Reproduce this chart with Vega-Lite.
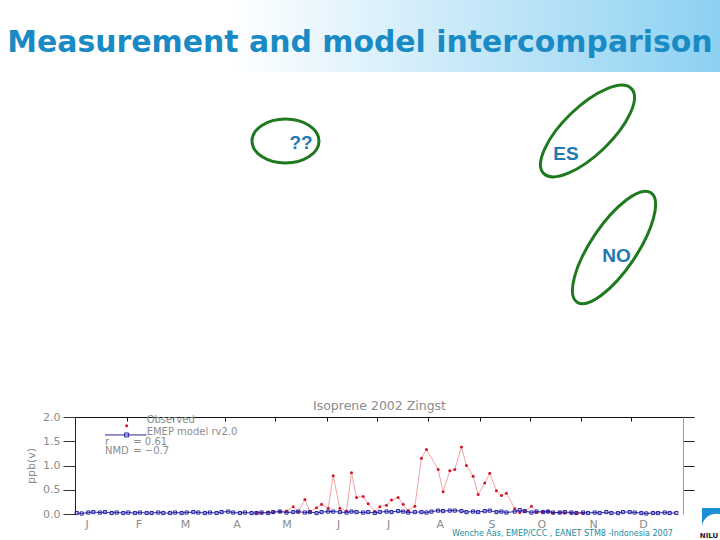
{
  "$schema": "https://vega.github.io/schema/vega-lite/v6.json",
  "width": 608,
  "height": 97,
  "autosize": {"type": "none"},
  "padding": {"left": 75, "top": 417, "right": 37, "bottom": 26},
  "background": "white",
  "config": {"view": {"stroke": null}, "font": "DejaVu Sans"},
  "datasets": {
    "series": [
      {"date": "2002-01-02", "model": 0.02},
      {"date": "2002-01-05", "model": 0.01},
      {"date": "2002-01-09", "model": 0.03},
      {"date": "2002-01-12", "model": 0.04},
      {"date": "2002-01-16", "model": 0.03},
      {"date": "2002-01-19", "model": 0.04},
      {"date": "2002-01-23", "model": 0.02},
      {"date": "2002-01-26", "model": 0.03},
      {"date": "2002-01-30", "model": 0.02},
      {"date": "2002-02-02", "model": 0.03},
      {"date": "2002-02-06", "model": 0.02},
      {"date": "2002-02-09", "model": 0.03},
      {"date": "2002-02-13", "model": 0.02},
      {"date": "2002-02-16", "model": 0.02},
      {"date": "2002-02-20", "model": 0.03},
      {"date": "2002-02-23", "model": 0.02},
      {"date": "2002-02-27", "model": 0.02},
      {"date": "2002-03-02", "model": 0.03},
      {"date": "2002-03-06", "model": 0.02},
      {"date": "2002-03-09", "model": 0.03},
      {"date": "2002-03-13", "model": 0.04},
      {"date": "2002-03-16", "model": 0.03},
      {"date": "2002-03-20", "model": 0.02},
      {"date": "2002-03-23", "model": 0.03},
      {"date": "2002-03-27", "model": 0.02},
      {"date": "2002-03-30", "model": 0.04},
      {"date": "2002-04-03", "model": 0.05},
      {"date": "2002-04-06", "model": 0.03},
      {"date": "2002-04-10", "model": 0.02},
      {"date": "2002-04-13", "model": 0.03},
      {"date": "2002-04-17", "model": 0.02},
      {"date": "2002-04-20", "model": 0.02, "obs": 0.03},
      {"date": "2002-04-23", "model": 0.03, "obs": 0.02},
      {"date": "2002-04-27", "model": 0.02, "obs": 0.04},
      {"date": "2002-04-30", "model": 0.04, "obs": 0.03},
      {"date": "2002-05-04", "model": 0.05, "obs": 0.05},
      {"date": "2002-05-08", "model": 0.03, "obs": 0.06},
      {"date": "2002-05-12", "model": 0.04, "obs": 0.15},
      {"date": "2002-05-15", "model": 0.05, "obs": 0.04},
      {"date": "2002-05-19", "model": 0.03, "obs": 0.30},
      {"date": "2002-05-22", "model": 0.04, "obs": 0.05},
      {"date": "2002-05-26", "model": 0.02, "obs": 0.13},
      {"date": "2002-05-29", "model": 0.04, "obs": 0.20},
      {"date": "2002-06-02", "model": 0.05, "obs": 0.12},
      {"date": "2002-06-05", "model": 0.05, "obs": 0.79},
      {"date": "2002-06-09", "model": 0.04, "obs": 0.12},
      {"date": "2002-06-13", "model": 0.03, "obs": 0.06},
      {"date": "2002-06-16", "model": 0.05, "obs": 0.85},
      {"date": "2002-06-19", "model": 0.04, "obs": 0.34},
      {"date": "2002-06-23", "model": 0.03, "obs": 0.36},
      {"date": "2002-06-26", "model": 0.04, "obs": 0.21},
      {"date": "2002-06-30", "model": 0.02, "obs": 0.05},
      {"date": "2002-07-03", "model": 0.04, "obs": 0.15},
      {"date": "2002-07-07", "model": 0.05, "obs": 0.18},
      {"date": "2002-07-10", "model": 0.04, "obs": 0.29},
      {"date": "2002-07-14", "model": 0.06, "obs": 0.34},
      {"date": "2002-07-17", "model": 0.05, "obs": 0.20},
      {"date": "2002-07-20", "model": 0.03, "obs": 0.07},
      {"date": "2002-07-24", "model": 0.04, "obs": 0.16},
      {"date": "2002-07-28", "model": 0.04, "obs": 1.15},
      {"date": "2002-07-31", "model": 0.03, "obs": 1.33},
      {"date": "2002-08-03", "model": 0.05},
      {"date": "2002-08-07", "model": 0.07, "obs": 0.92},
      {"date": "2002-08-10", "model": 0.06, "obs": 0.46},
      {"date": "2002-08-14", "model": 0.07, "obs": 0.89},
      {"date": "2002-08-17", "model": 0.07, "obs": 0.92},
      {"date": "2002-08-21", "model": 0.06, "obs": 1.38},
      {"date": "2002-08-24", "model": 0.04, "obs": 1.00},
      {"date": "2002-08-28", "model": 0.05, "obs": 0.78},
      {"date": "2002-08-31", "model": 0.04, "obs": 0.40},
      {"date": "2002-09-04", "model": 0.06, "obs": 0.64},
      {"date": "2002-09-07", "model": 0.07, "obs": 0.84},
      {"date": "2002-09-11", "model": 0.04, "obs": 0.48},
      {"date": "2002-09-14", "model": 0.05, "obs": 0.38},
      {"date": "2002-09-17", "model": 0.03, "obs": 0.43},
      {"date": "2002-09-22", "model": 0.05, "obs": 0.11},
      {"date": "2002-09-25", "model": 0.08, "obs": 0.03},
      {"date": "2002-09-28", "model": 0.06, "obs": 0.05},
      {"date": "2002-10-02", "model": 0.03, "obs": 0.16},
      {"date": "2002-10-05", "model": 0.05, "obs": 0.03},
      {"date": "2002-10-09", "model": 0.04, "obs": 0.04},
      {"date": "2002-10-12", "model": 0.05, "obs": 0.05},
      {"date": "2002-10-15", "model": 0.03, "obs": 0.02},
      {"date": "2002-10-19", "model": 0.03, "obs": 0.03},
      {"date": "2002-10-22", "model": 0.04, "obs": 0.02},
      {"date": "2002-10-26", "model": 0.03, "obs": 0.02},
      {"date": "2002-10-29", "model": 0.02, "obs": 0.01},
      {"date": "2002-11-02", "model": 0.03, "obs": 0.01},
      {"date": "2002-11-05", "model": 0.02},
      {"date": "2002-11-09", "model": 0.03},
      {"date": "2002-11-12", "model": 0.02},
      {"date": "2002-11-16", "model": 0.04},
      {"date": "2002-11-19", "model": 0.02},
      {"date": "2002-11-23", "model": 0.02},
      {"date": "2002-11-26", "model": 0.04},
      {"date": "2002-11-30", "model": 0.04},
      {"date": "2002-12-03", "model": 0.03},
      {"date": "2002-12-07", "model": 0.02},
      {"date": "2002-12-10", "model": 0.01},
      {"date": "2002-12-14", "model": 0.02},
      {"date": "2002-12-17", "model": 0.02},
      {"date": "2002-12-21", "model": 0.03},
      {"date": "2002-12-24", "model": 0.02},
      {"date": "2002-12-28", "model": 0.02}
    ],
    "notes": [
      {"label": "Observed", "date": "2002-02-13", "ppb": 1.93},
      {"label": "EMEP model rv2.0", "date": "2002-02-13", "ppb": 1.70},
      {"label": "r", "date": "2002-01-19", "ppb": 1.49},
      {"label": "= 0.61", "date": "2002-02-05", "ppb": 1.49},
      {"label": "NMD", "date": "2002-01-19", "ppb": 1.29},
      {"label": "= −0.7", "date": "2002-02-05", "ppb": 1.29}
    ],
    "keys": [
      {"key": "Observed", "date": "2002-02-01", "ppb": 1.82},
      {"key": "EMEP model rv2.0", "date": "2002-02-01", "ppb": 1.63},
      {"key": "EMEP line", "date": "2002-01-19", "date2": "2002-02-13", "ppb": 1.63}
    ],
    "slide": [
      {"item": "banner", "sx": 0, "sx2": 720, "sy": 0, "sy2": 72},
      {"item": "title", "text": "Measurement and model intercomparison", "sx": 360, "sy": 43},
      {"item": "ell-q", "sx": 285.5, "sy": 141},
      {"item": "ell-es", "sx": 587.5, "sy": 131},
      {"item": "ell-no", "sx": 614, "sy": 247.5},
      {"item": "country", "text": "??", "sx": 301, "sy": 143},
      {"item": "country", "text": "ES", "sx": 566, "sy": 154},
      {"item": "country", "text": "NO", "sx": 616.5, "sy": 256},
      {"item": "footer", "text": "Wenche Aas, EMEP/CCC , EANET STM8 -Indonesia 2007", "sx": 452, "sy": 536},
      {"item": "logo-arc", "sx": 711, "sy": 517},
      {"item": "logo-text", "text": "NILU", "sx": 709, "sy": 538}
    ]
  },
  "layer": [
    {
      "layer": [
        {
          "data": {"name": "series"},
          "transform": [{"filter": "isValid(datum.obs)"}],
          "mark": {"type": "line", "color": "#f4a3a3", "strokeWidth": 1},
          "encoding": {
            "x": {
              "field": "date", "type": "temporal",
              "scale": {"type": "utc", "domain": [{"year": 2002, "month": 1, "date": 1, "utc": true}, {"year": 2003, "month": 1, "date": 1, "utc": true}]},
              "axis": {
                "orient": "top",
                "values": [
                  {"year": 2002, "month": 2, "date": 1, "utc": true},
                  {"year": 2002, "month": 3, "date": 1, "utc": true},
                  {"year": 2002, "month": 4, "date": 1, "utc": true},
                  {"year": 2002, "month": 5, "date": 1, "utc": true},
                  {"year": 2002, "month": 6, "date": 1, "utc": true},
                  {"year": 2002, "month": 7, "date": 1, "utc": true},
                  {"year": 2002, "month": 8, "date": 1, "utc": true},
                  {"year": 2002, "month": 9, "date": 1, "utc": true},
                  {"year": 2002, "month": 10, "date": 1, "utc": true},
                  {"year": 2002, "month": 11, "date": 1, "utc": true},
                  {"year": 2002, "month": 12, "date": 1, "utc": true}
                ],
                "labels": false,
                "grid": false,
                "tickSize": -4,
                "tickColor": "#111111",
                "domainColor": "#111111",
                "title": "Isoprene 2002 Zingst",
                "titleColor": "#8c8c8c",
                "titleFontSize": 12.5,
                "titleFontWeight": "normal",
                "titleFont": "DejaVu Sans",
                "titlePadding": 4
              }
            },
            "y": {
              "field": "obs", "type": "quantitative",
              "scale": {"domain": [0, 2], "nice": false},
              "axis": {
                "orient": "right",
                "values": [0.5, 1, 1.5, 2],
                "labels": false,
                "grid": false,
                "tickSize": 11,
                "tickColor": "#222222",
                "domainColor": "#9a9a9a",
                "title": null
              }
            }
          }
        },
        {
          "data": {"name": "series"},
          "transform": [{"filter": "isValid(datum.obs)"}],
          "mark": {"type": "point", "filled": true, "color": "#d0182a", "size": 9, "opacity": 1},
          "encoding": {
            "x": {"field": "date", "type": "temporal", "axis": null},
            "y": {"field": "obs", "type": "quantitative", "axis": null}
          }
        },
        {
          "data": {"name": "series"},
          "mark": {"type": "line", "color": "#2a2a9a", "strokeWidth": 1},
          "encoding": {
            "x": {
              "field": "date", "type": "temporal",
              "axis": {
                "orient": "bottom",
                "values": [
                  {"year": 2002, "month": 1, "date": 8, "utc": true},
                  {"year": 2002, "month": 2, "date": 8, "utc": true},
                  {"year": 2002, "month": 3, "date": 8, "utc": true},
                  {"year": 2002, "month": 4, "date": 8, "utc": true},
                  {"year": 2002, "month": 5, "date": 8, "utc": true},
                  {"year": 2002, "month": 6, "date": 8, "utc": true},
                  {"year": 2002, "month": 7, "date": 8, "utc": true},
                  {"year": 2002, "month": 8, "date": 8, "utc": true},
                  {"year": 2002, "month": 9, "date": 8, "utc": true},
                  {"year": 2002, "month": 10, "date": 8, "utc": true},
                  {"year": 2002, "month": 11, "date": 8, "utc": true},
                  {"year": 2002, "month": 12, "date": 8, "utc": true}
                ],
                "labelExpr": "substring(utcFormat(datum.value, '%B'), 0, 1)",
                "ticks": false,
                "domain": false,
                "grid": false,
                "labelColor": "#8c8c8c",
                "labelFontSize": 11,
                "labelFont": "DejaVu Sans",
                "labelPadding": 4,
                "title": null
              }
            },
            "y": {
              "field": "model", "type": "quantitative",
              "axis": {
                "orient": "left",
                "values": [0, 0.5, 1, 1.5, 2],
                "format": ".1f",
                "grid": false,
                "tickSize": 12,
                "tickColor": "#333333",
                "domainColor": "#222222",
                "labelColor": "#8c8c8c",
                "labelFontSize": 11,
                "labelFont": "DejaVu Sans",
                "labelPadding": 3,
                "title": "ppb(v)",
                "titleColor": "#8c8c8c",
                "titleFontSize": 11,
                "titleFontWeight": "normal",
                "titleFont": "DejaVu Sans",
                "titlePadding": 6
              }
            }
          }
        },
        {
          "data": {"name": "series"},
          "mark": {"type": "point", "shape": "square", "filled": false, "color": "#2424a8", "size": 10, "strokeWidth": 1, "opacity": 1},
          "encoding": {
            "x": {"field": "date", "type": "temporal", "axis": null},
            "y": {"field": "model", "type": "quantitative", "axis": null}
          }
        },
        {
          "data": {"name": "keys"},
          "transform": [{"filter": "datum.key === 'EMEP line'"}],
          "mark": {"type": "rule", "color": "#2a2a9a", "strokeWidth": 1},
          "encoding": {
            "x": {"field": "date", "type": "temporal", "axis": null},
            "x2": {"field": "date2"},
            "y": {"field": "ppb", "type": "quantitative", "axis": null}
          }
        },
        {
          "data": {"name": "keys"},
          "transform": [{"filter": "datum.key === 'Observed'"}],
          "mark": {"type": "point", "filled": true, "color": "#d0182a", "size": 9, "opacity": 1},
          "encoding": {
            "x": {"field": "date", "type": "temporal", "axis": null},
            "y": {"field": "ppb", "type": "quantitative", "axis": null}
          }
        },
        {
          "data": {"name": "keys"},
          "transform": [{"filter": "datum.key === 'EMEP model rv2.0'"}],
          "mark": {"type": "point", "shape": "square", "filled": false, "color": "#2424a8", "size": 16, "strokeWidth": 1, "opacity": 1},
          "encoding": {
            "x": {"field": "date", "type": "temporal", "axis": null},
            "y": {"field": "ppb", "type": "quantitative", "axis": null}
          }
        },
        {
          "data": {"name": "notes"},
          "mark": {"type": "text", "align": "left", "baseline": "middle", "font": "DejaVu Sans", "fontSize": 10, "color": "#8c8c8c"},
          "encoding": {
            "x": {"field": "date", "type": "temporal", "axis": null},
            "y": {"field": "ppb", "type": "quantitative", "axis": null},
            "text": {"field": "label"}
          }
        }
      ],
      "resolve": {"axis": {"x": "independent", "y": "independent"}}
    },
    {
      "data": {"name": "slide"},
      "encoding": {
        "x": {"field": "sx", "type": "quantitative", "scale": {"domain": [75, 683], "nice": false, "zero": false}, "axis": null},
        "y": {"field": "sy", "type": "quantitative", "scale": {"domain": [417, 514], "nice": false, "zero": false, "reverse": true}, "axis": null}
      },
      "layer": [
        {
          "transform": [{"filter": "datum.item === 'banner'"}],
          "mark": {
            "type": "rect",
            "fill": {"gradient": "linear", "x1": 0, "y1": 0, "x2": 1, "y2": 0, "stops": [
              {"offset": 0, "color": "#ffffff"},
              {"offset": 0.32, "color": "#ffffff"},
              {"offset": 1, "color": "#8dd1f2"}
            ]}
          },
          "encoding": {"x2": {"field": "sx2"}, "y2": {"field": "sy2"}}
        },
        {
          "transform": [{"filter": "datum.item === 'title'"}],
          "mark": {"type": "text", "align": "center", "baseline": "middle", "font": "DejaVu Sans", "fontWeight": "bold", "fontSize": 29.9, "color": "#1a8ac4"},
          "encoding": {"text": {"field": "text"}}
        },
        {
          "transform": [{"filter": "datum.item === 'ell-q'"}],
          "mark": {"type": "point", "shape": "M 1 0 C 1 0.363 0.552 0.657 0 0.657 C -0.552 0.657 -1 0.363 -1 0 C -1 -0.363 -0.552 -0.657 0 -0.657 C 0.552 -0.657 1 -0.363 1 0 Z", "size": 4489, "filled": false, "color": "#1f7a1f", "strokeWidth": 3, "opacity": 1}
        },
        {
          "transform": [{"filter": "datum.item === 'ell-es'"}],
          "mark": {"type": "point", "shape": "M 1 0 C 1 0.217 0.552 0.393 0 0.393 C -0.552 0.393 -1 0.217 -1 0 C -1 -0.217 -0.552 -0.393 0 -0.393 C 0.552 -0.393 1 -0.217 1 0 Z", "size": 14884, "angle": 316, "filled": false, "color": "#1f7a1f", "strokeWidth": 3, "opacity": 1}
        },
        {
          "transform": [{"filter": "datum.item === 'ell-no'"}],
          "mark": {"type": "point", "shape": "M 1 0 C 1 0.192 0.552 0.348 0 0.348 C -0.552 0.348 -1 0.192 -1 0 C -1 -0.192 -0.552 -0.348 0 -0.348 C 0.552 -0.348 1 -0.192 1 0 Z", "size": 17424, "angle": 304, "filled": false, "color": "#1f7a1f", "strokeWidth": 3, "opacity": 1}
        },
        {
          "transform": [{"filter": "datum.item === 'country'"}],
          "mark": {"type": "text", "align": "center", "baseline": "middle", "font": "Liberation Sans", "fontWeight": "bold", "fontSize": 19, "color": "#2179b1"},
          "encoding": {"text": {"field": "text"}}
        },
        {
          "transform": [{"filter": "datum.item === 'footer'"}],
          "mark": {"type": "text", "align": "left", "baseline": "alphabetic", "font": "DejaVu Sans", "fontSize": 8, "color": "#1b8c9e"},
          "encoding": {"text": {"field": "text"}}
        },
        {
          "transform": [{"filter": "datum.item === 'logo-arc'"}],
          "mark": {"type": "point", "shape": "M -1 1 C -0.8 -0.1 0.2 -0.5 1 -0.3 L 1 -1 L -1 -1 Z", "size": 324, "filled": true, "color": "#1e8fd6", "opacity": 1}
        },
        {
          "transform": [{"filter": "datum.item === 'logo-text'"}],
          "mark": {"type": "text", "align": "center", "baseline": "alphabetic", "font": "DejaVu Sans", "fontWeight": "bold", "fontSize": 7, "color": "#222222"},
          "encoding": {"text": {"field": "text"}}
        }
      ]
    }
  ],
  "resolve": {"scale": {"x": "independent", "y": "independent"}}
}
